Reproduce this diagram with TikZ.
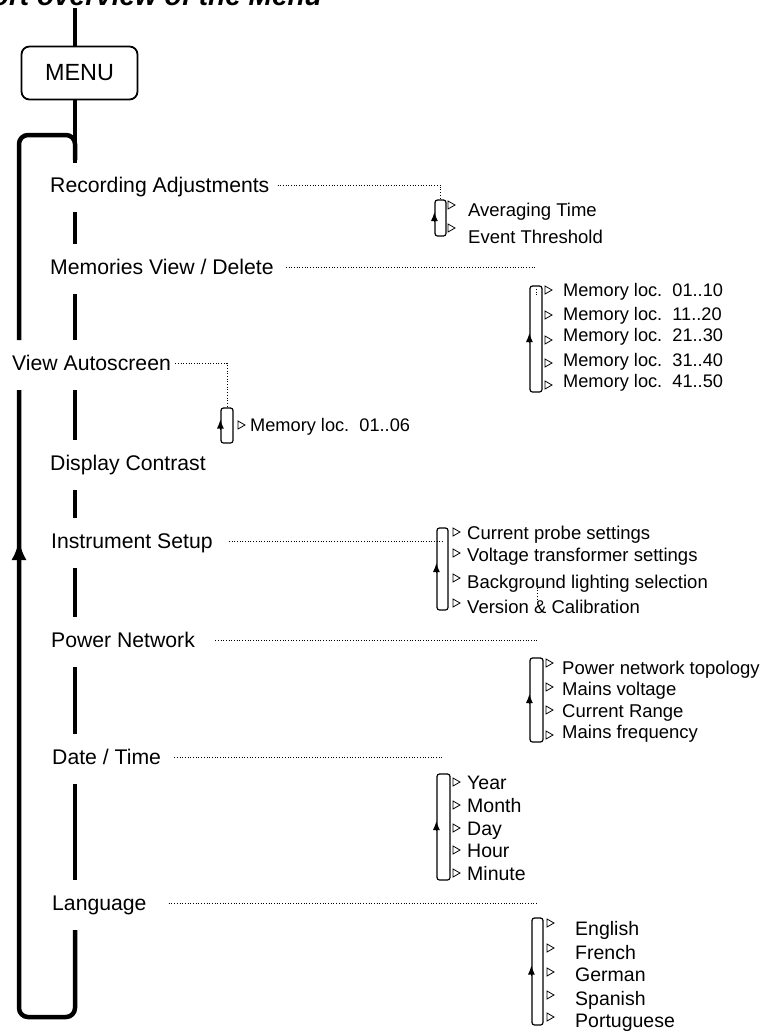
\documentclass[tikz,border=0pt]{standalone}
\usepackage{fontspec}
\setmainfont{Liberation Sans}
\usetikzlibrary{arrows.meta,calc}

\begin{document}
\begin{tikzpicture}[x=1pt,y=-1pt,
	spine/.style={line width=4.5pt},
	lab/.style={anchor=west,inner sep=0pt,font=\fontsize{21.2}{25}\selectfont,text height=15.2pt,text depth=0pt},
	item/.style={anchor=west,inner sep=0pt,font=\fontsize{18.5}{22}\selectfont,text height=13.3pt,text depth=0pt},
	memitem/.style={item,font=\fontsize{18.2}{22}\selectfont,text height=13pt},
	subbox/.style={draw,line width=1.2pt,rounded corners=2.5pt,inner sep=0pt},
	leader/.style={line width=1pt,dash pattern=on 1pt off 1.7pt},
	tri/.style={line width=0.8pt},
	uptip/.style={line width=1.2pt,-{Latex[length=9pt,width=7pt]}}]

\useasboundingbox (0,0) rectangle (762,1034);
\clip (0,0) rectangle (762,1034);

\def\dreieck#1{
	\draw[tri] #1 ++(0,-4) -- ++(7,4) -- ++(-7,4) -- cycle;
}

\coordinate (sp) at (75,0);
\coordinate (lp) at (19,0);

\node[anchor=base east,inner sep=0pt,font=\fontsize{28}{32}\selectfont\bfseries\itshape] (titel) at (322,5) {Short overview of the Menu};

\node[draw,line width=1.8pt,rounded corners=8pt,minimum width=116pt,minimum height=53pt,inner sep=0pt,font=\fontsize{23.4}{28}\selectfont] (menu) at (79.5,73) {MENU};

\node[lab] (rec) at (50,185) {Recording Adjustments};
\node[lab] (mem) at (50,267) {Memories View / Delete};
\node[lab] (vas) at (12,363) {View Autoscreen};
\node[lab] (dis) at (50,463) {Display Contrast};
\node[lab] (ins) at (51,541) {Instrument Setup};
\node[lab] (pow) at (51,640) {Power Network};
\node[lab] (dat) at (52,757) {Date / Time};
\node[lab] (lan) at (52,903) {Language};

\draw[spine] (75,8) -- (menu.north -| sp);
\draw[spine] (menu.south -| sp) -- ($(rec -| sp)+(0,-22)$);
\foreach \a/\b in {rec/mem,mem/vas,vas/dis,dis/ins,ins/pow,pow/dat,dat/lan}
	\draw[spine] ($(\a -| sp)+(0,27)$) -- ($(\b -| sp)+(0,-23)$);

\draw[spine,rounded corners=9pt] ($(lan -| sp)+(0,27)$) -- (75,1017) -- (19,1017) -- ($(vas -| lp)+(0,27)$);
\draw[spine,rounded corners=9pt] ($(vas -| lp)+(0,-23)$) -- (19,135) -- (75,135) -- (75,160);
\draw[spine,-{Latex[length=20pt,width=15pt]}] (19,600) -- (19,540);

\node[subbox,minimum width=11pt,minimum height=36pt] (recbox) at (440.5,218) {};
\node[subbox,minimum width=12pt,minimum height=106pt] (membox) at (536,339) {};
\node[subbox,minimum width=12pt,minimum height=35pt] (vasbox) at (227,425.5) {};
\node[subbox,minimum width=11pt,minimum height=82pt] (insbox) at (442.5,569) {};
\node[subbox,minimum width=13pt,minimum height=84pt] (powbox) at (536.5,700) {};
\node[subbox,minimum width=13pt,minimum height=106pt] (datbox) at (443.5,827) {};
\node[subbox,minimum width=11pt,minimum height=107pt] (lanbox) at (537.5,971.5) {};

\foreach \b in {recbox,membox,vasbox,insbox,powbox,datbox,lanbox}
	\draw[uptip] ([yshift=-4pt]\b.west) -- ([yshift=6pt]\b.west);

\draw[leader,shorten <=8pt] (rec.east) -| (recbox.north);
\draw[leader,shorten <=12pt] (mem.east) -- (mem.east -| membox);
\draw[leader,shorten <=4pt] (vas.east) -| (vasbox.north);
\draw[leader,shorten <=16pt] (ins.east) -- (ins.east -| insbox);
\draw[leader,shorten <=20pt] (pow.east) -- (pow.east -| powbox);
\draw[leader,shorten <=13pt] (dat.east) -- (dat.east -| datbox);
\draw[leader,shorten <=22pt] (lan.east) -- (lan.east -| lanbox);
\draw[leader] (536,289) -- (536,297);
\draw[leader] (537,585) -- (537,600);

\foreach \n/\ty/\y/\t in {1/205/210/Averaging Time,2/228/237/Event Threshold}{
	\dreieck{(448,\ty)}
	\node[item] (rec\n) at (468,\y) {\t};
}

\foreach \n/\ty/\y/\t in {1/290/290/01..10,2/315/314/11..20,3/340/335/21..30,4/363/360/31..40,5/385/381/41..50}{
	\dreieck{(545,\ty)}
	\node[memitem] (mem\n) at (563,\y) {Memory loc.\ \ \t};
}

\dreieck{(238,425)}
\node[memitem] (vas1) at (250,425) {Memory loc.\ \ 01..06};

\foreach \n/\ty/\y/\t in {1/532/533/Current probe settings,2/553/555/Voltage transformer settings,3/578/582/Background lighting selection,4/603/607/Version \& Calibration}{
	\dreieck{(453,\ty)}
	\node[item] (ins\n) at (467,\y) {\t};
}

\foreach \n/\ty/\y/\t in {1/663/668/Power network topology,2/687/689/Mains voltage,3/710/711/Current Range,4/735/732/Mains frequency}{
	\dreieck{(546,\ty)}
	\node[item] (pow\n) at (562,\y) {\t};
}

\foreach \n/\y/\t in {1/782/Year,2/805/Month,3/828/Day,4/850/Hour,5/873/Minute}{
	\dreieck{(453,\y)}
	\node[item,font=\fontsize{19.5}{23}\selectfont,text height=14pt] (dat\n) at (467,\y) {\t};
}

\foreach \n/\ty/\y/\t in {1/923/928/English,2/948/952/French,3/972/974/German,4/995/998/Spanish,5/1017/1020/Portuguese}{
	\dreieck{(547,\ty)}
	\node[item,font=\fontsize{19.5}{23}\selectfont,text height=14pt] (lan\n) at (575,\y) {\t};
}

\end{tikzpicture}
\end{document}
